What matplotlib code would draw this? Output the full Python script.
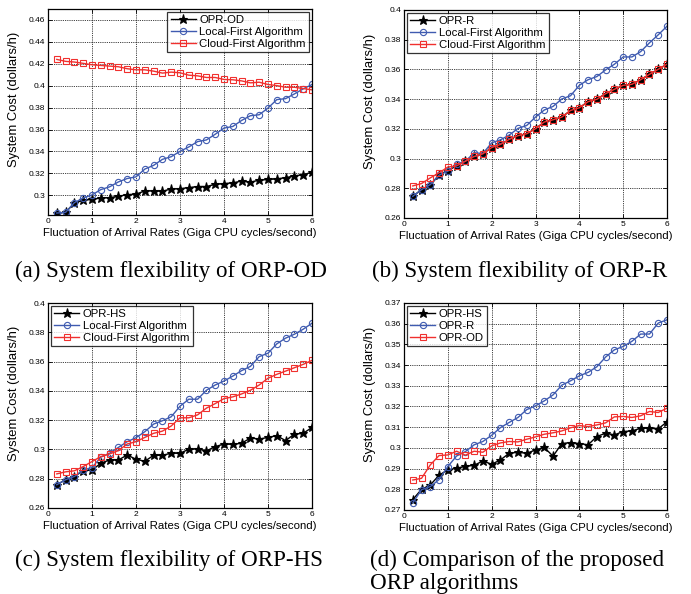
import matplotlib
matplotlib.use("Agg")
import matplotlib.pyplot as plt
from matplotlib.ticker import FuncFormatter, MultipleLocator

x = [round(0.2 * i, 1) for i in range(1, 31)]

# (a)
a_opr_od = [0.2838, 0.2844, 0.2930, 0.2954, 0.2963, 0.2975, 0.2979, 0.2990, 0.3006, 0.3010,
            0.3040, 0.3040, 0.3037, 0.3058, 0.3060, 0.3070, 0.3080, 0.3080, 0.3100, 0.3107,
            0.3113, 0.3130, 0.3120, 0.3138, 0.3144, 0.3150, 0.3160, 0.3178, 0.3187, 0.3211]
a_local = [0.2838, 0.2844, 0.2933, 0.2975, 0.3003, 0.3052, 0.3077, 0.3122, 0.3153, 0.3168,
           0.3239, 0.3273, 0.3328, 0.3352, 0.3401, 0.3441, 0.3490, 0.3505, 0.3557, 0.3613,
           0.3628, 0.3683, 0.3726, 0.3735, 0.3796, 0.3873, 0.3882, 0.3925, 0.3971, 0.4011]
a_cloud = [0.4240, 0.4222, 0.4216, 0.4204, 0.4191, 0.4185, 0.4179, 0.4173, 0.4155, 0.4145,
           0.4145, 0.4133, 0.4115, 0.4124, 0.4118, 0.4096, 0.4090, 0.4075, 0.4075, 0.4057,
           0.4054, 0.4044, 0.4026, 0.4032, 0.4011, 0.4001, 0.3986, 0.3986, 0.3974, 0.3962]

# (b)
b_opr_r = [0.2746, 0.2791, 0.2820, 0.2892, 0.2919, 0.2951, 0.2982, 0.3014, 0.3032, 0.3074,
           0.3095, 0.3129, 0.3154, 0.3167, 0.3201, 0.3246, 0.3261, 0.3279, 0.3324, 0.3342,
           0.3383, 0.3399, 0.3437, 0.3466, 0.3493, 0.3500, 0.3531, 0.3567, 0.3601, 0.3635]
b_local = [0.2746, 0.2791, 0.2825, 0.2888, 0.2915, 0.2964, 0.2982, 0.3039, 0.3034, 0.3106,
           0.3126, 0.3158, 0.3203, 0.3223, 0.3279, 0.3327, 0.3351, 0.3401, 0.3423, 0.3493,
           0.3531, 0.3552, 0.3597, 0.3635, 0.3684, 0.3684, 0.3720, 0.3779, 0.3833, 0.3891]
b_cloud = [0.2816, 0.2832, 0.2870, 0.2904, 0.2943, 0.2951, 0.2982, 0.3014, 0.3032, 0.3074,
           0.3095, 0.3129, 0.3154, 0.3167, 0.3201, 0.3246, 0.3261, 0.3279, 0.3324, 0.3342,
           0.3383, 0.3399, 0.3437, 0.3466, 0.3493, 0.3500, 0.3531, 0.3567, 0.3601, 0.3635]

# (c)
c_opr_hs = [0.2759, 0.2793, 0.2815, 0.2856, 0.2858, 0.2906, 0.2928, 0.2928, 0.2962, 0.2933,
            0.2919, 0.2960, 0.2960, 0.2974, 0.2974, 0.3001, 0.3005, 0.2990, 0.3019, 0.3037,
            0.3035, 0.3042, 0.3078, 0.3071, 0.3082, 0.3094, 0.3060, 0.3105, 0.3110, 0.3150]
c_local = [0.2759, 0.2793, 0.2815, 0.2860, 0.2876, 0.2947, 0.2974, 0.3014, 0.3053, 0.3080,
           0.3121, 0.3173, 0.3196, 0.3223, 0.3295, 0.3343, 0.3343, 0.3404, 0.3440, 0.3467,
           0.3501, 0.3538, 0.3567, 0.3634, 0.3657, 0.3721, 0.3760, 0.3787, 0.3821, 0.3862]
c_cloud = [0.2833, 0.2847, 0.2854, 0.2883, 0.2917, 0.2951, 0.2969, 0.2992, 0.3037, 0.3053,
           0.3082, 0.3110, 0.3125, 0.3160, 0.3216, 0.3216, 0.3236, 0.3282, 0.3313, 0.3347,
           0.3359, 0.3379, 0.3404, 0.3440, 0.3486, 0.3513, 0.3535, 0.3558, 0.3581, 0.3608]

# (d)
d_opr_hs = [0.2750, 0.2800, 0.2821, 0.2868, 0.2894, 0.2902, 0.2911, 0.2916, 0.2937, 0.2921,
            0.2942, 0.2974, 0.2979, 0.2974, 0.2990, 0.3002, 0.2960, 0.3021, 0.3026, 0.3021,
            0.3015, 0.3055, 0.3071, 0.3063, 0.3079, 0.3082, 0.3095, 0.3095, 0.3092, 0.3126]
d_opr_r = [0.2734, 0.2798, 0.2813, 0.2847, 0.2910, 0.2961, 0.2982, 0.3015, 0.3031, 0.3061,
           0.3098, 0.3123, 0.3147, 0.3185, 0.3203, 0.3227, 0.3256, 0.3303, 0.3324, 0.3348,
           0.3365, 0.3392, 0.3439, 0.3474, 0.3490, 0.3515, 0.3550, 0.3550, 0.3603, 0.3619]
d_opr_od = [0.2845, 0.2853, 0.2918, 0.2963, 0.2966, 0.2984, 0.2965, 0.2984, 0.2979, 0.3010,
            0.3024, 0.3031, 0.3029, 0.3042, 0.3053, 0.3066, 0.3073, 0.3082, 0.3097, 0.3108,
            0.3103, 0.3111, 0.3121, 0.3150, 0.3152, 0.3147, 0.3155, 0.3176, 0.3171, 0.3192]

captions = ["(a) System flexibility of ORP-OD",
            "(b) System flexibility of ORP-R",
            "(c) System flexibility of ORP-HS",
            "(d) Comparison of the proposed\nORP algorithms"]
xlabel = "Fluctuation of Arrival Rates (Giga CPU cycles/second)"
ylabel = "System Cost (dollars/h)"

BLACK = "black"
BLUE = "#3f5bb0"
RED = "#f0302e"

W, H = 691, 594
fig = plt.figure(figsize=(W / 100, H / 100), dpi=100)
plt.rcParams['font.family'] = ['Liberation Sans', 'DejaVu Sans']


def box(l, r, t, b):
    return [l / W, 1 - b / H, (r - l) / W, (b - t) / H]


def style(ax, ylim, ystep):
    ax.set_xlim(0, 6)
    ax.set_ylim(*ylim)
    ax.xaxis.set_major_locator(MultipleLocator(1))
    ax.yaxis.set_major_locator(MultipleLocator(ystep))
    ax.yaxis.set_major_formatter(FuncFormatter(lambda v, p: ("%.2f" % v).rstrip('0').rstrip('.')))
    ax.tick_params(direction='in', top=True, right=True, length=3, width=0.6,
                   labelsize=6.0, pad=2)
    ax.grid(True, color='black', linestyle=(0, (1, 1.2)), linewidth=0.6)
    for s in ax.spines.values():
        s.set_linewidth(0.9)
    ax.set_xlabel(xlabel, fontsize=8.2, labelpad=2)
    ax.set_ylabel(ylabel, fontsize=9.4)
    ax.yaxis.set_label_coords(-0.105, 0.56)


def draw(ax, series, labels, loc):
    styles = [dict(color=BLACK, marker='*', markersize=6.5, mfc=BLACK, mec=BLACK),
              dict(color=BLUE, marker='o', markersize=4.5, mfc='none', mec=BLUE),
              dict(color=RED, marker='s', markersize=4.5, mfc='none', mec=RED)]
    for ys, lab, st in zip(series, labels, styles):
        ax.plot(x, ys, linewidth=1.0, label=lab, markeredgewidth=0.8, **st)
    leg = ax.legend(loc=loc, fontsize=8.2, frameon=True, fancybox=False,
                    edgecolor='black', borderpad=0.3, labelspacing=0.15,
                    handlelength=2.2, handletextpad=0.3, borderaxespad=0.25)
    leg.get_frame().set_linewidth(0.9)


ax_a = fig.add_axes(box(48, 312, 9, 215))
draw(ax_a, [a_opr_od, a_local, a_cloud],
     ["OPR-OD", "Local-First Algorithm", "Cloud-First Algorithm"], 'upper right')
style(ax_a, (0.282, 0.47), 0.02)

ax_b = fig.add_axes(box(404, 667, 10, 218))
draw(ax_b, [b_opr_r, b_local, b_cloud],
     ["OPR-R", "Local-First Algorithm", "Cloud-First Algorithm"], 'upper left')
style(ax_b, (0.26, 0.40), 0.02)

ax_c = fig.add_axes(box(48, 312, 303, 508))
draw(ax_c, [c_opr_hs, c_local, c_cloud],
     ["OPR-HS", "Local-First Algorithm", "Cloud-First Algorithm"], 'upper left')
style(ax_c, (0.26, 0.40), 0.02)

ax_d = fig.add_axes(box(404, 667, 303, 510))
draw(ax_d, [d_opr_hs, d_opr_r, d_opr_od],
     ["OPR-HS", "OPR-R", "OPR-OD"], 'upper left')
style(ax_d, (0.27, 0.37), 0.01)

cap_font = ['Liberation Serif', 'DejaVu Serif']
cap_kw = dict(fontsize=16.6, family=cap_font, va='baseline', ha='left')
fig.text(15 / W, 1 - 277 / H, captions[0], **cap_kw)
fig.text(372 / W, 1 - 277 / H, captions[1], **cap_kw)
fig.text(15 / W, 1 - 566 / H, captions[2], **cap_kw)
d_lines = captions[3].split("\n")
fig.text(370 / W, 1 - 566 / H, d_lines[0], **cap_kw)
fig.text(370 / W, 1 - 589 / H, d_lines[1], **cap_kw)

fig.savefig("out.png", dpi=100)
